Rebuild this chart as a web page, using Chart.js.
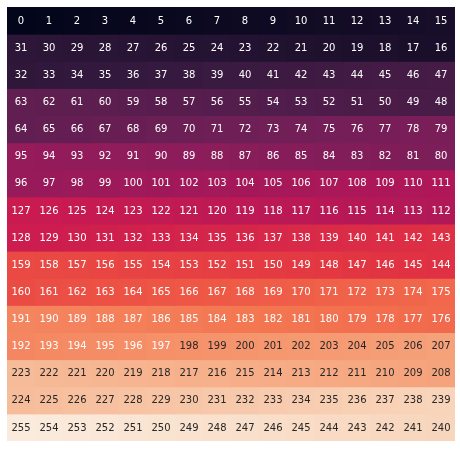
<!DOCTYPE html>
<html>
<head>
<meta charset="utf-8">
<script src="https://cdn.jsdelivr.net/npm/chart.js@4/dist/chart.umd.min.js"></script>
<style>
  html, body { margin: 0; padding: 0; background: #ffffff; }
  #wrap { width: 460px; height: 449px; position: relative; }
</style>
</head>
<body>
<div id="wrap"><canvas id="c" width="460" height="449"></canvas></div>
<script>
const columns = ['0','1','2','3','4','5','6','7','8','9','10','11','12','13','14','15'];
const rows = ['0','1','2','3','4','5','6','7','8','9','10','11','12','13','14','15'];
const values = [
  [0,1,2,3,4,5,6,7,8,9,10,11,12,13,14,15],
  [31,30,29,28,27,26,25,24,23,22,21,20,19,18,17,16],
  [32,33,34,35,36,37,38,39,40,41,42,43,44,45,46,47],
  [63,62,61,60,59,58,57,56,55,54,53,52,51,50,49,48],
  [64,65,66,67,68,69,70,71,72,73,74,75,76,77,78,79],
  [95,94,93,92,91,90,89,88,87,86,85,84,83,82,81,80],
  [96,97,98,99,100,101,102,103,104,105,106,107,108,109,110,111],
  [127,126,125,124,123,122,121,120,119,118,117,116,115,114,113,112],
  [128,129,130,131,132,133,134,135,136,137,138,139,140,141,142,143],
  [159,158,157,156,155,154,153,152,151,150,149,148,147,146,145,144],
  [160,161,162,163,164,165,166,167,168,169,170,171,172,173,174,175],
  [191,190,189,188,187,186,185,184,183,182,181,180,179,178,177,176],
  [192,193,194,195,196,197,198,199,200,201,202,203,204,205,206,207],
  [223,222,221,220,219,218,217,216,215,214,213,212,211,210,209,208],
  [224,225,226,227,228,229,230,231,232,233,234,235,236,237,238,239],
  [255,254,253,252,251,250,249,248,247,246,245,244,243,242,241,240]
];
const vmin = 0, vmax = 255;

// "rocket" colormap control points
const rocketStops = [
  [0.000, [3,5,26]],
  [0.071, [28,16,44]],
  [0.143, [53,25,62]],
  [0.214, [82,29,76]],
  [0.286, [112,31,87]],
  [0.357, [143,28,91]],
  [0.429, [173,23,89]],
  [0.500, [203,27,80]],
  [0.571, [225,51,66]],
  [0.643, [237,83,68]],
  [0.714, [243,118,81]],
  [0.786, [245,150,110]],
  [0.857, [246,180,143]],
  [0.929, [248,209,182]],
  [1.000, [250,235,221]]
];
function rocket(t) {
  t = Math.max(0, Math.min(1, t));
  for (let i = 1; i < rocketStops.length; i++) {
    if (t <= rocketStops[i][0]) {
      const [t0, c0] = rocketStops[i-1], [t1, c1] = rocketStops[i];
      const f = (t - t0) / (t1 - t0);
      return c0.map((v, k) => Math.round(v + (c1[k] - v) * f));
    }
  }
  return rocketStops[rocketStops.length-1][1];
}
function lum(rgb) {
  const l = rgb.map(v => { v /= 255; return v <= 0.03928 ? v / 12.92 : Math.pow((v + 0.055) / 1.055, 2.4); });
  return 0.2126*l[0] + 0.7152*l[1] + 0.0722*l[2];
}
const rgbStr = c => `rgb(${c[0]},${c[1]},${c[2]})`;

const datasets = rows.map((r, ri) => ({
  label: r,
  data: columns.map(() => [ri, ri + 1]),
  backgroundColor: values[ri].map(v => rgbStr(rocket((v - vmin) / (vmax - vmin)))),
  borderWidth: 0,
  inflateAmount: 0.5,
  grouped: false,
  barPercentage: 1,
  categoryPercentage: 1
}));

const annot = {
  id: 'annot',
  afterDatasetsDraw(chart) {
    const ctx = chart.ctx;
    ctx.save();
    ctx.font = '10px "DejaVu Sans"';
    ctx.textAlign = 'center';
    ctx.textBaseline = 'middle';
    chart.data.datasets.forEach((ds, di) => {
      const meta = chart.getDatasetMeta(di);
      meta.data.forEach((el, i) => {
        const v = values[di][i];
        const c = rocket((v - vmin) / (vmax - vmin));
        ctx.fillStyle = lum(c) > 0.408 ? 'rgb(38,38,38)' : '#ffffff';
        ctx.fillText(String(v), el.x, (el.y + el.base) / 2 + 0.5);
      });
    });
    ctx.restore();
  }
};

new Chart(document.getElementById('c'), {
  type: 'bar',
  data: { labels: columns, datasets },
  options: {
    responsive: false,
    animation: false,
    devicePixelRatio: 1,
    layout: { padding: { left: 7, top: 7, right: 5, bottom: 8 } },
    plugins: { legend: { display: false }, tooltip: { enabled: false } },
    scales: {
      x: { type: 'category', display: false, offset: true, grid: { display: false } },
      y: { type: 'linear', display: false, min: 0, max: 16, reverse: true, grid: { display: false } }
    }
  },
  plugins: [annot]
});
</script>
</body>
</html>
